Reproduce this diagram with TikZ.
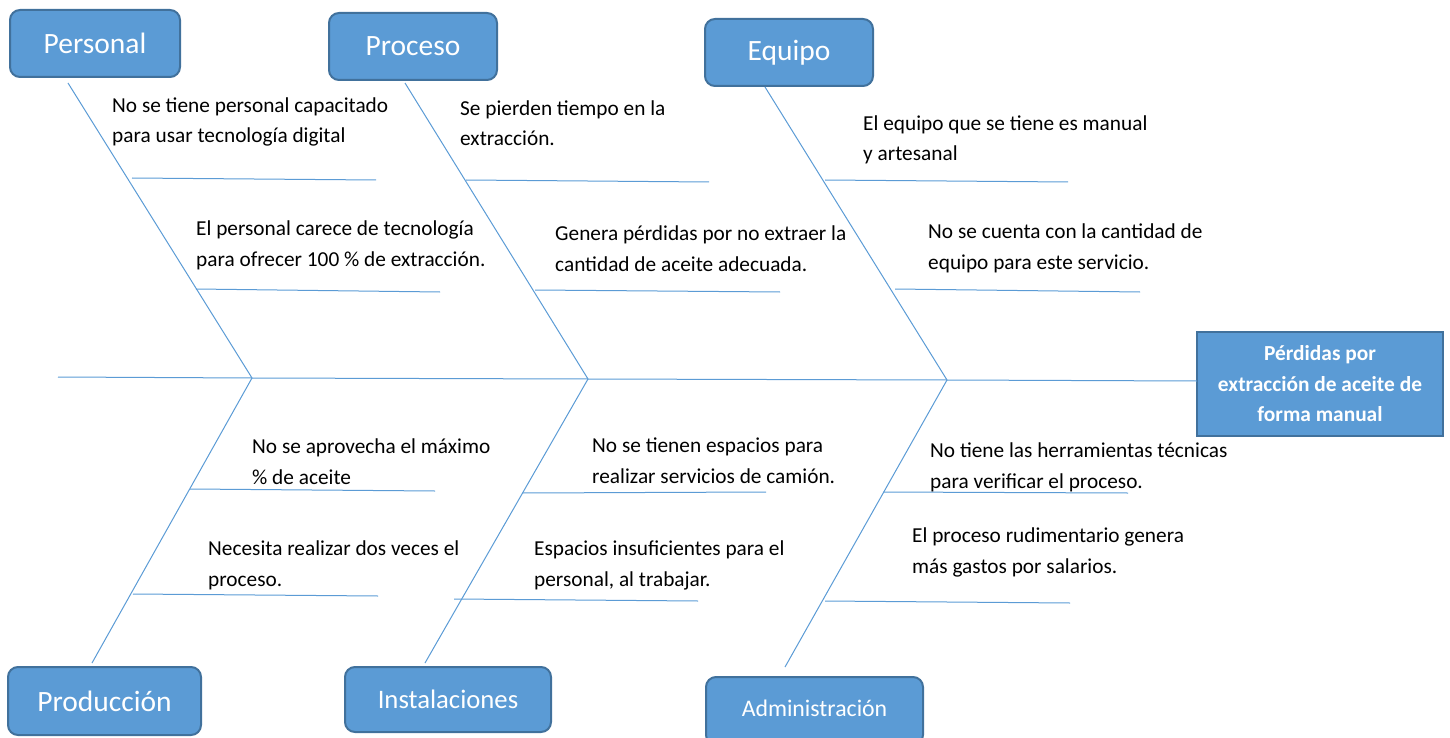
\documentclass[tikz,border=0pt]{standalone}
\usepackage{fontspec}
\setmainfont{Carlito}
\usepackage{tikz}
\definecolor{boxblue}{HTML}{5B9BD5}
\definecolor{boxedge}{HTML}{41719C}
\tikzstyle{cat}=[draw=boxedge, fill=boxblue, line width=2pt, rounded corners=10pt, text=white, font=\fontsize{29.5}{32}\selectfont]
\tikzstyle{effect}=[draw=boxedge, fill=boxblue, line width=2pt, text=white, align=center, font=\bfseries\fontsize{21.4}{30.5}\selectfont]
\tikzstyle{cause}=[anchor=base west, align=left, inner sep=0pt, font=\fontsize{21.3}{30.5}\selectfont]
\tikzstyle{bone}=[draw=boxblue, line width=1pt]

\begin{document}
\begin{tikzpicture}[x=1pt, y=-1pt]
        \useasboundingbox (0,0) rectangle (1450,738);
        \node[cat, minimum width=170pt, minimum height=67pt] (personal) at (95,43.5) {Personal};
        \node[cat, minimum width=168pt, minimum height=67pt] (proceso) at (413,46.5) {Proceso};
        \node[cat, minimum width=168pt, minimum height=67pt] (equipo) at (789,52.5) {Equipo};
        \node[cat, minimum width=193pt, minimum height=68pt] (produccion) at (104.5,701) {Producción};
        \node[cat, minimum width=206pt, minimum height=65pt, font=\fontsize{26.7}{30}\selectfont] (instalaciones) at (448,699.5) {Instalaciones};
        \node[cat, minimum width=217pt, minimum height=68pt, font=\fontsize{23.8}{28}\selectfont, text depth=6pt] (admin) at (814.5,711) {Administración};
        \node[effect, minimum width=246pt, minimum height=104pt] (perdidas) at (1320,384) {Pérdidas por\\extracción de aceite de\\forma manual};
        \coordinate (tail) at (58,377);
        \coordinate (head) at (1197,381);
        \coordinate (j1) at (252,378);
        \coordinate (j2) at (588,379);
        \coordinate (j3) at (947,380);
        \coordinate (t1) at (68,83);
        \coordinate (t2) at (405,83);
        \coordinate (t3) at (765,87);
        \coordinate (b1) at (92,663);
        \coordinate (b2) at (425,663);
        \coordinate (b3) at (785,667);
        \draw[bone] (tail) -- (j1) -- (j2) -- (j3) -- (head);
        \draw[bone] (t1) -- (j1) -- (b1);
        \draw[bone] (t2) -- (j2) -- (b2);
        \draw[bone] (t3) -- (j3) -- (b3);
        \draw[bone] (132,178) -- (376,180);
        \draw[bone] (196,289) -- (440,292);
        \draw[bone] (466,180) -- (709,182);
        \draw[bone] (535,290) -- (780,292);
        \draw[bone] (825,180) -- (1068,182);
        \draw[bone] (895,289) -- (1140,292);
        \draw[bone] (190,489) -- (435,491);
        \draw[bone] (133,594) -- (378,596);
        \draw[bone] (522,493) -- (766,492);
        \draw[bone] (454,599) -- (698,601);
        \draw[bone] (883,492) -- (1128,493);
        \draw[bone] (825,601) -- (1070,603);
        \node[cause] (c1) at (112,143) {No se tiene personal capacitado\\para usar tecnología digital};
        \node[cause] (c2) at (196,266) {El personal carece de tecnología\\para ofrecer 100 \% de extracción.};
        \node[cause] (c3) at (460,146) {Se pierden tiempo en la\\extracción.};
        \node[cause] (c4) at (555,271) {Genera pérdidas por no extraer la\\cantidad de aceite adecuada.};
        \node[cause] (c5) at (863,161) {El equipo que se tiene es manual\\y artesanal};
        \node[cause] (c6) at (928,269) {No se cuenta con la cantidad de\\equipo para este servicio.};
        \node[cause] (c7) at (252,484) {No se aprovecha el máximo\\\% de aceite};
        \node[cause] (c8) at (208,586) {Necesita realizar dos veces el\\proceso.};
        \node[cause] (c9) at (592,483) {No se tienen espacios para\\realizar servicios de camión.};
        \node[cause] (c10) at (534,586) {Espacios insuficientes para el\\personal, al trabajar.};
        \node[cause] (c11) at (930,488) {No tiene las herramientas técnicas\\para verificar el proceso.};
        \node[cause] (c12) at (912,573) {El proceso rudimentario genera\\más gastos por salarios.};
    \end{tikzpicture}
\end{document}
